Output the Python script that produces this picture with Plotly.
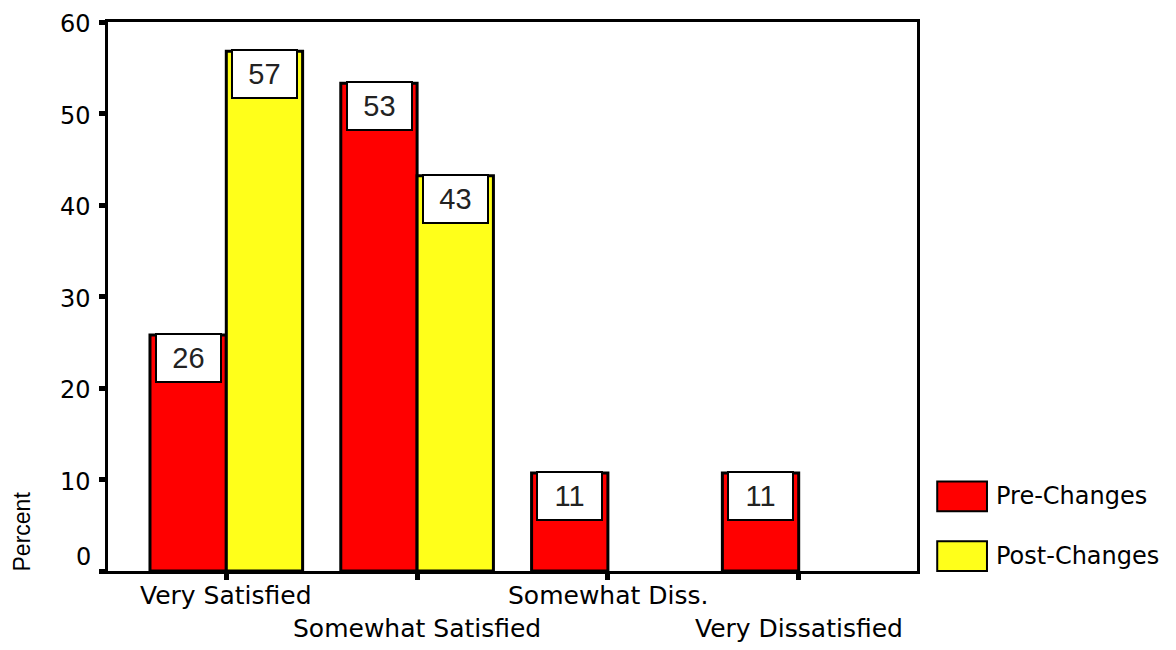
import plotly.graph_objects as go

RED = "#FF0000"
YELLOW = "#FFFF1A"
BLACK = "#000000"
WHITE = "#FFFFFF"

categories = ["Very Satisfied", "Somewhat Satisfied", "Somewhat Diss.", "Very Dissatisfied"]
pre_changes = [25.8, 53.3, 10.7, 10.7]
post_changes = [56.8, 43.2, 0, 0]
y_ticks = [0, 10, 20, 30, 40, 50, 60]

FONT = "DejaVu Sans, Liberation Sans, Arial, sans-serif"


def outline_widths(values):
    # no outline on empty bars, so nothing is drawn over the axis
    return [3 if v > 0 else 0 for v in values]


fig = go.Figure()

fig.add_trace(go.Bar(
    x=list(range(len(categories))),
    y=pre_changes,
    name="Pre-Changes",
    marker=dict(color=RED, line=dict(color=BLACK, width=outline_widths(pre_changes)))
))

fig.add_trace(go.Bar(
    x=list(range(len(categories))),
    y=post_changes,
    name="Post-Changes",
    marker=dict(color=YELLOW, line=dict(color=BLACK, width=outline_widths(post_changes)))
))

# value boxes on top of the bars
for series, shift in [(pre_changes, -38), (post_changes, 38)]:
    for i, v in enumerate(series):
        if v <= 0:
            continue
        fig.add_annotation(
            x=i, y=v, xref="x", yref="y",
            text=str(round(v)),
            showarrow=False,
            xshift=shift, yshift=2,
            yanchor="top",
            width=63, height=46,
            bgcolor=WHITE,
            bordercolor=BLACK,
            borderwidth=2,
            borderpad=0,
            font=dict(family="Liberation Sans, Arial", size=29, color="#222222")
        )

# category labels, staggered on two rows
for i, cat in enumerate(categories):
    fig.add_annotation(
        x=i, y=0, xref="x", yref="paper",
        text=cat,
        showarrow=False,
        yanchor="middle",
        yshift=-24 if i % 2 == 0 else -57,
        font=dict(family=FONT, size=25, color=BLACK)
    )

# y tick labels; the 0 is lifted off the corner like the original
for v in y_ticks:
    fig.add_annotation(
        x=0, y=v, xref="paper", yref="y",
        text=str(v),
        showarrow=False,
        xanchor="right", yanchor="middle",
        xshift=-15, yshift=14 if v == 0 else -2,
        font=dict(family=FONT, size=24, color=BLACK)
    )

fig.add_annotation(
    x=0, y=0.072, xref="paper", yref="paper",
    xshift=-86,
    xanchor="center", yanchor="middle",
    text="Percent",
    textangle=-90,
    showarrow=False,
    font=dict(family="Liberation Sans Narrow, Liberation Sans, Arial", size=23, color=BLACK)
)

# legend drawn by hand to get the large swatches
legend_items = [("Pre-Changes", RED, 0.109, 0.163), ("Post-Changes", YELLOW, 0.0, 0.054)]
for label, color, y0, y1 in legend_items:
    fig.add_shape(
        type="rect", xref="paper", yref="paper",
        x0=1.025, x1=1.0865, y0=y0, y1=y1,
        fillcolor=color, line=dict(color=BLACK, width=2)
    )
    fig.add_annotation(
        x=1.095, y=(y0 + y1) / 2, xref="paper", yref="paper",
        text=label, showarrow=False,
        xanchor="left", yanchor="middle",
        font=dict(family=FONT, size=24, color=BLACK)
    )

# page body has an 8px margin, so the figure is sized to fit inside it
fig.update_layout(
    width=1160,
    height=634,
    barmode="group",
    bargap=0.2,
    bargroupgap=0,
    showlegend=False,
    paper_bgcolor=WHITE,
    plot_bgcolor=WHITE,
    margin=dict(l=100, r=251, t=11, b=71),
    font=dict(family=FONT, size=21, color=BLACK),
    xaxis=dict(
        range=[-0.62, 3.62],
        tickvals=list(range(len(categories))),
        showticklabels=False,
        ticks="outside",
        ticklen=6,
        tickwidth=5,
        tickcolor=BLACK,
        showline=True,
        linecolor=BLACK,
        linewidth=3,
        mirror=True,
        showgrid=False,
        zeroline=False
    ),
    yaxis=dict(
        range=[0, 60],
        tickvals=y_ticks,
        showticklabels=False,
        ticks="outside",
        ticklen=6,
        tickwidth=5,
        tickcolor=BLACK,
        showline=True,
        linecolor=BLACK,
        linewidth=3,
        mirror=True,
        showgrid=False,
        zeroline=False
    )
)

fig.write_html("out.html")
